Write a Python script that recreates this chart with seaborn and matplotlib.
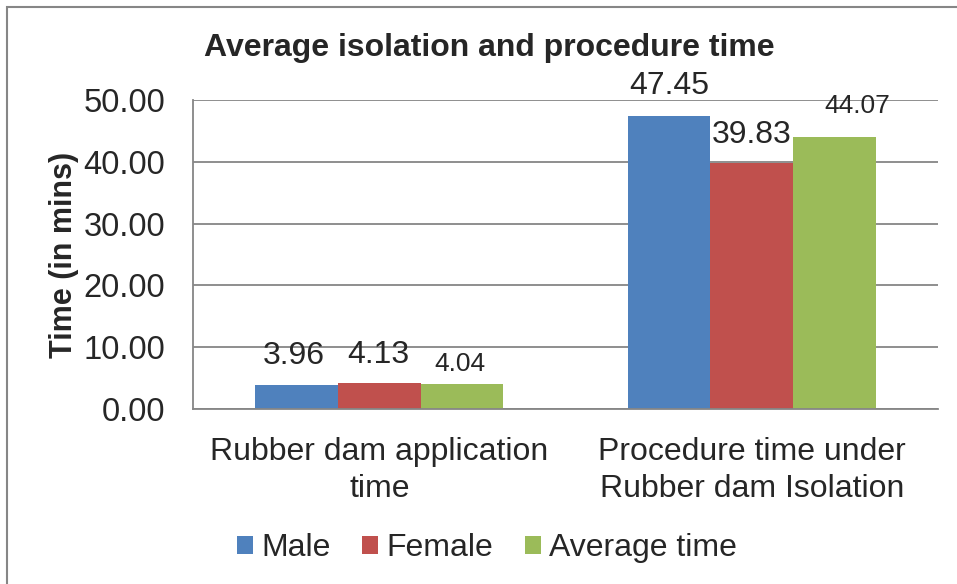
import pandas as pd
import matplotlib.pyplot as plt
import seaborn as sns
from matplotlib.patches import Rectangle

sns.set_style('white')
plt.rcParams['font.family'] = ['Liberation Sans', 'DejaVu Sans']

categories = ['Rubber dam application\ntime',
              'Procedure time under\nRubber dam Isolation']
series = ['Male', 'Female', 'Average time']
male = [3.96, 47.45]
female = [4.13, 39.83]
average = [4.04, 44.07]

colors = ['#4F81BD', '#C0504D', '#9BBB59']

df = pd.DataFrame({
    'category': categories * 3,
    'series': [s for s in series for _ in categories],
    'value': male + female + average,
})

fig = plt.figure(figsize=(9.57, 5.84), dpi=100)
W, H = 957, 584
ax = fig.add_axes([193 / W, 1 - 409 / H, 745 / W, 309 / H])

sns.barplot(data=df, x='category', y='value', hue='series',
            palette=colors, width=0.667, ax=ax, legend=True,
            saturation=1, edgecolor='none')

ax.set_ylim(0, 50)
ax.set_yticks(range(0, 51, 10))
ax.set_yticklabels([f'{v:.2f}' for v in range(0, 51, 10)], fontsize=23.5)
ax.set_xlim(-0.5, 1.5)
ax.tick_params(axis='x', labelsize=23, pad=20, length=0)
ax.tick_params(axis='y', pad=20, length=0)
for t in ax.get_xticklabels():
    t.set_linespacing(1.3)
ax.set_xlabel('')
ax.set_ylabel('Time (in mins)', fontsize=22, fontweight='bold', labelpad=3)
ax.yaxis.grid(True, color='#868686', linewidth=1.3)
ax.set_axisbelow(True)
for side in ['top', 'right']:
    ax.spines[side].set_visible(False)
for side in ['left', 'bottom']:
    ax.spines[side].set_color('#868686')
    ax.spines[side].set_linewidth(1.3)

# data labels, placed as in the original (pixel offsets from bar top)
offsets = [[(-3, 29), (-1, 28.5), (-2, 20)],
           [(0, 30), (0, 28), (23, 31)]]
sizes = [[23, 23, 19], [23, 23, 19]]
for j, cont in enumerate(ax.containers):
    for i, bar in enumerate(cont):
        val = bar.get_height()
        ax.annotate(f'{val:.2f}',
                    (bar.get_x() + bar.get_width() / 2, val),
                    xytext=offsets[i][j], textcoords='offset pixels',
                    ha='center', va='center', fontsize=sizes[i][j])

fig.text(489 / W, 1 - 48 / H, 'Average isolation and procedure time',
         ha='center', va='center', fontsize=23, fontweight='bold')

handles, labels = ax.get_legend_handles_labels()
ax.legend(handles, labels, loc='center', bbox_to_anchor=(487 / W, 1 - 548 / H),
          bbox_transform=fig.transFigure, ncol=3, frameon=False,
          fontsize=23, handlelength=0.5, handleheight=0.5,
          handletextpad=0.25, columnspacing=1.0)

fig.patches.append(Rectangle((7 / W, -0.1), 1.2, 1 - 7 / H + 0.1,
                             transform=fig.transFigure, fill=False,
                             edgecolor='#868686', linewidth=1.5))

fig.savefig('out.png', dpi=100)
